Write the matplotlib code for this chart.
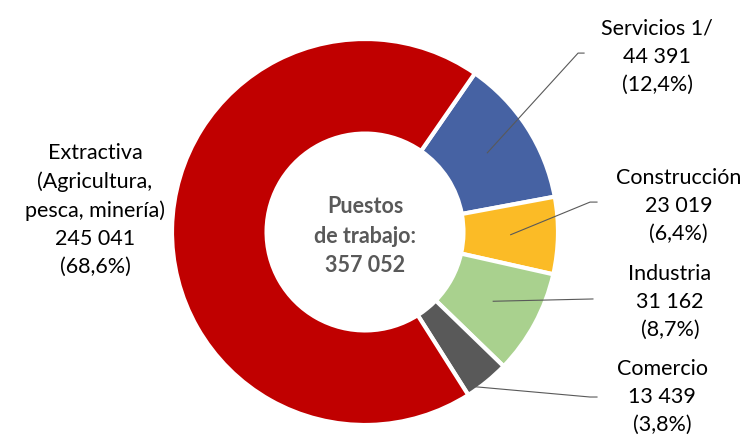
import numpy as np
import matplotlib
matplotlib.use("Agg")
import matplotlib.pyplot as plt

plt.rcParams['font.family'] = ['Lato', 'DejaVu Sans']

# datos (orden horario desde arriba)
sectores = ["Servicios 1/", "Construcción", "Industria", "Comercio",
            "Extractiva\n(Agricultura,\npesca, minería)"]
puestos = [44391, 23019, 31162, 13439, 245041]
colores = ["#4662A3", "#FBBB26", "#A9D18E", "#595959", "#C00000"]
titulo_centro = "Puestos\nde trabajo:"


def fmt_num(v):
    return f"{v:,}".replace(",", " ")


total = sum(puestos)
pct = [100 * v / total for v in puestos]

fig = plt.figure(figsize=(7.47, 4.39), dpi=100)
ax = fig.add_axes([0, 0, 1, 1])

wedges, _ = ax.pie(puestos, colors=colores, startangle=55.3, counterclock=False,
                   radius=1.0, wedgeprops=dict(width=0.49, edgecolor='white', linewidth=3))

# 1 unidad = 193 px, centro en (365, 233) px
R = 193.0
cx, cy = 365.0, 233.0
ax.set_xlim(-cx / R, (747 - cx) / R)
ax.set_ylim(-(439 - cy) / R, cy / R)
ax.set_aspect('equal')
ax.axis('off')

# textos de etiquetas
etiquetas = [f"{s}\n{fmt_num(v)}\n({p:.1f}%)".replace(".", ",")
             for s, v, p in zip(sectores, puestos, pct)]

# posiciones (en unidades de radio)
pos_texto = [(1.513, 0.912), (1.625, 0.140), (1.580, -0.358), (1.539, -0.850), (-1.399, 0.119)]
codos = [[(1.104, 0.927), (1.135, 0.927)],
         [(1.166, 0.155), (1.202, 0.155)],
         [(1.181, -0.347)],
         [(1.166, -0.855), (1.202, -0.855)],
         None]
# (fraccion del arco, radio) del punto de anclaje
anclas = [(0.5, 0.755), (0.5, 0.755), (0.5, 0.755), (0.1, 0.96), None]

for w, txt, pt, codo, an in zip(wedges, etiquetas, pos_texto, codos, anclas):
    ax.text(pt[0], pt[1], txt, ha='center', va='center', fontsize=15.5,
            color='black', linespacing=1.5)
    if codo is None:
        continue
    ang = np.deg2rad(w.theta1 + an[0] * (w.theta2 - w.theta1))
    xs = [an[1] * np.cos(ang)] + [c[0] for c in codo]
    ys = [an[1] * np.sin(ang)] + [c[1] for c in codo]
    ax.plot(xs, ys, color='#595959', lw=0.8)

ax.text(0, -0.016, f"{titulo_centro}\n{fmt_num(total)}", ha='center', va='center',
        fontsize=15.5, fontweight='bold', color='#595959', linespacing=1.5)

fig.savefig("out.png", dpi=100)
